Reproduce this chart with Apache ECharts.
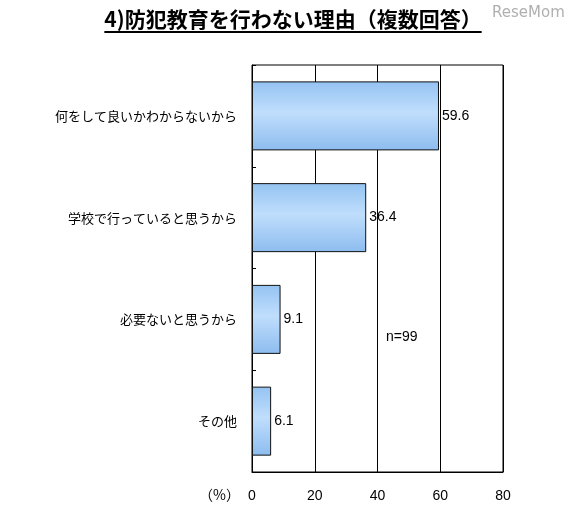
<!DOCTYPE html>
<html><head><meta charset="utf-8">
<script src="https://cdn.jsdelivr.net/npm/echarts@6/dist/echarts.min.js"></script>
<style>html,body{margin:0;padding:0;background:#fff}#c{width:578px;height:522px}</style>
</head><body><div id="c"></div>
<script>
const titleText = '4)防犯教育を行わない理由（複数回答）';
const categories = ['何をして良いかわからないから', '学校で行っていると思うから', '必要ないと思うから', 'その他'];
const values = [59.6, 36.4, 9.1, 6.1];
const axisTicks = [0, 20, 40, 60, 80];
const unitLabel = '（%）';
const noteText = 'n=99';
const watermark = 'ReseMom';

const chart = echarts.init(document.getElementById('c'), null, {renderer: 'canvas'});
const titleFont = 'bold 21px "Noto Sans CJK JP"';
const mc = document.createElement('canvas').getContext('2d');
mc.font = titleFont;
const tw = mc.measureText(titleText).width;
const tcx = 293;

chart.setOption({
  animation: false,
  backgroundColor: '#fff',
  grid: {left: 252, right: 75, top: 65, bottom: 50, show: true, borderColor: '#000', borderWidth: 1},
  xAxis: {
    type: 'value', min: axisTicks[0], max: axisTicks[axisTicks.length - 1], interval: 20,
    axisLine: {show: true, lineStyle: {color: '#000'}},
    axisTick: {show: false},
    splitLine: {show: true, lineStyle: {color: '#000', width: 1}},
    axisLabel: {color: '#000', fontSize: 14, fontFamily: 'Liberation Sans', margin: 17}
  },
  yAxis: {
    type: 'category', data: categories, inverse: true,
    axisLine: {show: true, lineStyle: {color: '#000'}},
    axisTick: {show: true, inside: true, length: 4, lineStyle: {color: '#000'}},
    axisLabel: {color: '#000', fontSize: 13, fontFamily: 'Noto Sans CJK JP', margin: 15}
  },
  series: [{
    type: 'bar', data: values, barWidth: 69,
    itemStyle: {
      borderColor: '#111', borderWidth: 1,
      color: new echarts.graphic.LinearGradient(0, 0, 0, 1, [
        {offset: 0, color: '#94c3f2'},
        {offset: 0.45, color: '#c0defc'},
        {offset: 1, color: '#8dbcef'}
      ])
    },
    label: {show: true, position: 'right', distance: 3, color: '#000', fontSize: 14, fontFamily: 'Liberation Sans',
      formatter: p => p.value.toFixed(1)}
  }],
  graphic: [
    {type: 'text', left: tcx - tw / 2, top: 9, style: {text: titleText, font: titleFont, fill: '#000'}},
    {type: 'rect', shape: {x: tcx - tw / 2, y: 31, width: tw, height: 2}, style: {fill: '#000'}},
    {type: 'text', left: 492, top: 6, style: {text: watermark, font: '15px "DejaVu Sans"', fill: '#b0b0b0'}},
    {type: 'text', left: 386, top: 330, style: {text: noteText, font: '14px "Liberation Sans"', fill: '#000'}},
    {type: 'text', left: 199, top: 488, style: {text: unitLabel, font: '14px "Noto Sans CJK JP"', fill: '#000'}}
  ]
});
</script></body></html>
